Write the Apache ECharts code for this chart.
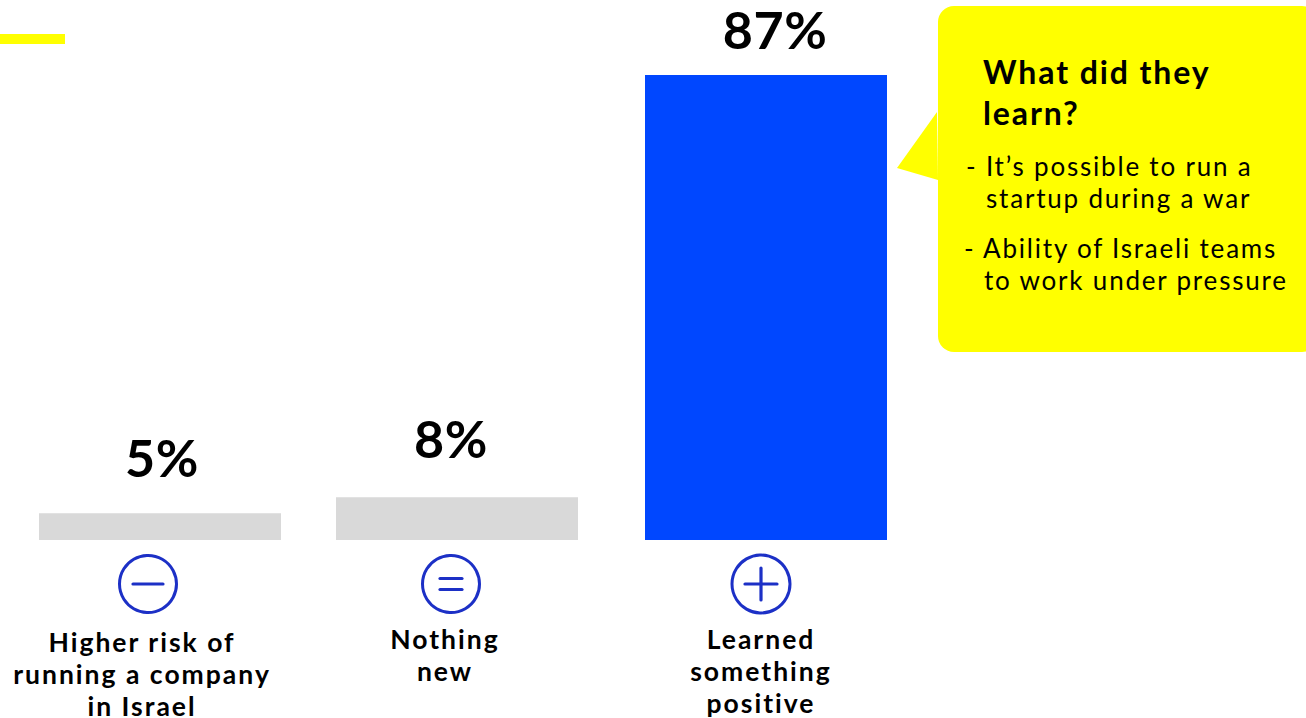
<!DOCTYPE html>
<html>
<head>
<meta charset="utf-8">
<title>What did they learn?</title>
<script src="https://cdn.jsdelivr.net/npm/echarts@6/dist/echarts.min.js"></script>
<style>
  html, body { margin: 0; padding: 0; background: #fff; }
  #chart { width: 1306px; height: 718px; }
  svg text { letter-spacing: 1.8px; }
  svg text[style*="26.5px"] { letter-spacing: 2px; }
  svg text[style*="32px"] { letter-spacing: 1.9px; }
  svg text[style*="52px"] { letter-spacing: 0.6px; }
</style>
</head>
<body>
<div id="chart"></div>
<script>
// Survey answers, in per cent
const categories = ['Higher risk of\nrunning a company\nin Israel', 'Nothing\nnew', 'Learned\nsomething\npositive'];
const values = [5, 8, 87];
const calloutTitle = 'What did they\nlearn?';
const calloutPoints = [
  ['- It\u2019s possible to run a', 'startup during a war'],
  ['- Ability of Israeli teams', 'to work under pressure']
];

// Layout and styling
const BLUE = '#0047ff', GREY = '#d9d9d9', YELLOW = '#ffff00', ICON = '#1c30c6';
const FONT = 'Lato';
const barColors = [GREY, GREY, BLUE];
const slotLeft = [39, 336, 645];
const slotWidth = 242;
const plotTop = 5.52, plotHeight = 534.48;
const valueLabelOffset = [[2, -10], [-6, -13], [9, 0]];
const categoryPadding = [[0, 36, 0, 0], [0, 24, 0, 0], [0, 10, 0, 0]];
const categoryMargin = [86, 83, 83];

function icon(cx, cy, r, strokes) {
  const shapes = [{ type: 'circle', shape: { cx, cy, r }, style: { fill: 'none', stroke: ICON, lineWidth: 3 } }];
  strokes.forEach(s => shapes.push({
    type: 'line',
    shape: { x1: cx + s[0], y1: cy + s[1], x2: cx + s[2], y2: cy + s[3] },
    style: { stroke: ICON, lineWidth: 3.2, lineCap: 'round' }
  }));
  return shapes;
}

function bodyText(x, y, text) {
  return { type: 'text', x, y, style: { text, fill: '#000', font: '400 26px ' + FONT, textVerticalAlign: 'middle' } };
}

const graphics = [
  { type: 'rect', shape: { x: 0, y: 34, width: 65, height: 10 }, style: { fill: YELLOW } },
  { type: 'polygon', shape: { points: [[897, 168], [937, 112], [938, 180]] }, style: { fill: YELLOW } },
  { type: 'rect', shape: { x: 938, y: 6, width: 380, height: 346, r: 16 }, style: { fill: YELLOW } },
  { type: 'text', x: 983, y: 51, style: { text: calloutTitle, fill: '#000', font: '700 32px ' + FONT, lineHeight: 41 } },
  bodyText(966, 166, calloutPoints[0][0]),
  bodyText(986, 198, calloutPoints[0][1]),
  bodyText(964, 248, calloutPoints[1][0]),
  bodyText(984, 280, calloutPoints[1][1]),
  ...icon(148, 584, 28.5, [[-15, 0, 15, 0]]),
  ...icon(451, 584, 28.5, [[-11, -5.5, 11, -5.5], [-11, 5.5, 11, 5.5]]),
  ...icon(761, 584, 29, [[-16, 0, 16, 0], [0, -16, 0, 16]])
];

const chart = echarts.init(document.getElementById('chart'), null, { renderer: 'svg' });
chart.setOption({
  animation: false,
  backgroundColor: '#fff',
  // One slot per answer, since the columns are not evenly spaced
  grid: slotLeft.map(left => ({ left, top: plotTop, width: slotWidth, height: plotHeight, outerBoundsMode: 'none' })),
  xAxis: categories.map((name, i) => ({
    type: 'category',
    gridIndex: i,
    data: [name],
    axisLine: { show: false },
    axisTick: { show: false },
    axisLabel: {
      interval: 0,
      margin: categoryMargin[i],
      padding: categoryPadding[i],
      color: '#000',
      fontFamily: FONT,
      fontWeight: 700,
      fontSize: 26.5,
      lineHeight: 32
    }
  })),
  yAxis: categories.map((_, i) => ({ type: 'value', gridIndex: i, min: 0, max: 100, show: false })),
  series: categories.map((_, i) => ({
    type: 'bar',
    xAxisIndex: i,
    yAxisIndex: i,
    barWidth: '100%',
    data: [values[i]],
    itemStyle: { color: barColors[i] },
    label: {
      show: true,
      position: 'top',
      distance: 20,
      offset: valueLabelOffset[i],
      formatter: '{c}%',
      color: '#000',
      fontFamily: FONT,
      fontWeight: 700,
      fontSize: 52
    }
  })),
  graphic: graphics
});
</script>
</body>
</html>
